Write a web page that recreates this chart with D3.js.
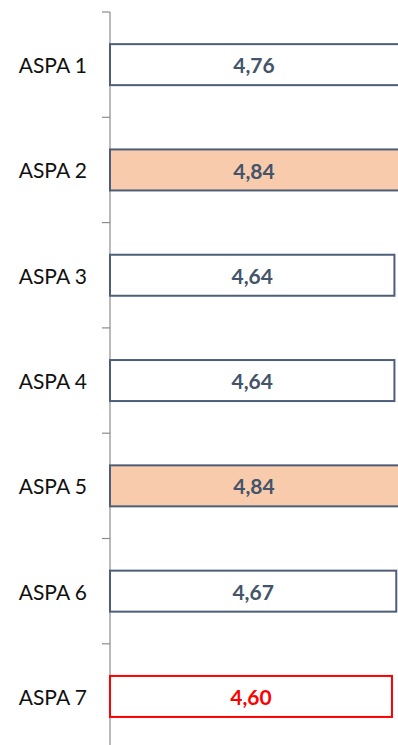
<!DOCTYPE html>
<html>
<head>
<meta charset="utf-8">
<script src="https://cdn.jsdelivr.net/npm/d3@7"></script>
<style>
  html, body { margin: 0; padding: 0; background: #fff; }
  svg { display: block; }
</style>
</head>
<body>
<svg id="chart" width="398" height="745"></svg>
<script>
// Scores per ASPA
const categories = ["ASPA 1", "ASPA 2", "ASPA 3", "ASPA 4", "ASPA 5", "ASPA 6", "ASPA 7"];
const values = [4.76, 4.84, 4.64, 4.64, 4.84, 4.67, 4.60];
const labels = ["4,76", "4,84", "4,64", "4,64", "4,84", "4,67", "4,60"];
// highlight: "top" = best score, "low" = lowest score, "" = normal
const highlight = ["", "top", "", "", "top", "", "low"];

const W = 398, H = 745;
const svg = d3.select("#chart");

const axisX = 110;
const x = d3.scaleLinear().domain([0, 5]).range([axisX, axisX + 5 * 61.3]);
const y = d3.scaleBand().domain(categories).range([12, 12 + 7 * 105.3]).paddingInner(0).paddingOuter(0);

const barH = 41;

// axis line and tick marks at category boundaries
const g = svg.append("g");
g.append("line")
  .attr("x1", axisX).attr("x2", axisX)
  .attr("y1", y.range()[0]).attr("y2", H)
  .attr("stroke", "#8c8c8c").attr("stroke-width", 1.2);
const bounds = categories.map(c => y(c));
g.selectAll("line.tick").data(bounds).join("line")
  .attr("class", "tick")
  .attr("x1", axisX - 8).attr("x2", axisX)
  .attr("y1", d => d).attr("y2", d => d)
  .attr("stroke", "#8c8c8c").attr("stroke-width", 1.2);

// category labels
g.selectAll("text.cat").data(categories).join("text")
  .attr("class", "cat")
  .attr("x", 87)
  .attr("y", d => y(d) + y.bandwidth() / 2 + 1)
  .attr("dy", "0.35em")
  .attr("text-anchor", "end")
  .attr("font-family", "Lato, 'Open Sans', sans-serif")
  .attr("font-size", 21)
  .attr("fill", "#111")
  .text(d => d);

// bars
const rows = categories.map((c, i) => ({ c, v: values[i], label: labels[i], h: highlight[i] }));
const stroke = d => d.h === "low" ? "#ff0000" : "#4e5d78";
const fill = d => d.h === "top" ? "#f8cbad" : "#ffffff";

svg.selectAll("rect.bar").data(rows).join("rect")
  .attr("class", "bar")
  .attr("x", x(0))
  .attr("y", d => y(d.c) + y.bandwidth() / 2 - barH / 2)
  .attr("width", d => x(d.v) - x(0))
  .attr("height", barH)
  .attr("fill", fill)
  .attr("stroke", stroke)
  .attr("stroke-width", 2);

// value labels, centered in the visible part of each bar
svg.selectAll("text.val").data(rows).join("text")
  .attr("class", "val")
  .attr("x", d => (x(0) + Math.min(x(d.v), W)) / 2)
  .attr("y", d => y(d.c) + y.bandwidth() / 2 + 1)
  .attr("dy", "0.36em")
  .attr("text-anchor", "middle")
  .attr("font-family", "Lato, 'Open Sans', sans-serif")
  .attr("font-weight", "bold")
  .attr("font-size", 21)
  .attr("fill", d => d.h === "low" ? "#ff0000" : "#44546a")
  .text(d => d.label);
</script>
</body>
</html>
